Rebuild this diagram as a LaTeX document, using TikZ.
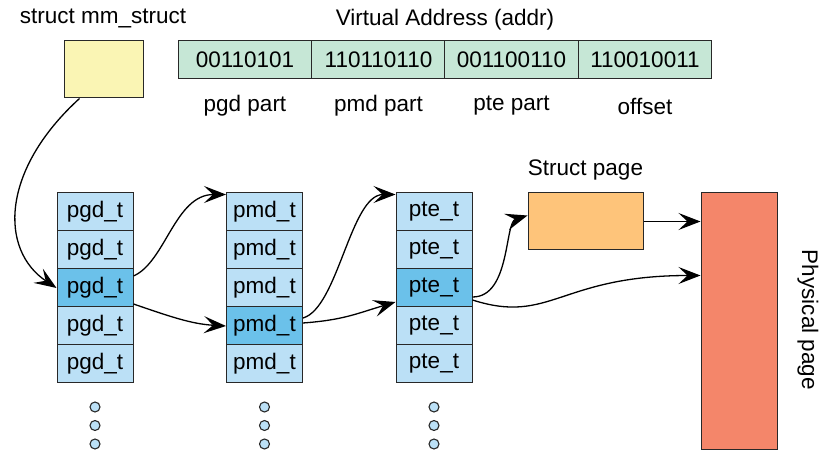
\documentclass[tikz,border=0pt]{standalone}
\usepackage{fontspec}
\setmainfont{Liberation Sans}
\usetikzlibrary{arrows.meta,calc}

\definecolor{mmyellow}{RGB}{250,245,180}
\definecolor{addrgreen}{RGB}{198,231,214}
\definecolor{tblblue}{RGB}{187,224,246}
\definecolor{tbldark}{RGB}{107,193,234}
\definecolor{pageorange}{RGB}{254,196,122}
\definecolor{physred}{RGB}{244,134,106}
\definecolor{edge}{RGB}{40,40,40}

\begin{document}
\begin{tikzpicture}[x=1pt,y=-1pt,
    every node/.style={font=\fontsize{22.5}{27}\selectfont,inner sep=0pt},
    box/.style={draw=edge,line width=1pt},
    entry/.style={box,fill=tblblue,minimum width=76pt,minimum height=38pt},
    hit/.style={entry,fill=tbldark},
    bits/.style={box,fill=addrgreen,minimum width=133.5pt,minimum height=38pt},
    more/.style={circle,draw=edge,fill=tblblue,line width=1.1pt,minimum size=10pt},
    ptr/.style={-{Stealth[length=22pt,width=17pt,inset=9pt]},line width=1.3pt}]
    \useasboundingbox (0,0) rectangle (820,454);

    % mm_struct and the address
    \node (mmlabel) at (103,18) {struct mm\_struct};
    \node[box,fill=mmyellow,minimum width=79pt,minimum height=57pt] (mm) at (103.5,69.5) {};
    \node (vaddr) at (445,20) {Virtual Address (addr)};
    \node[bits] (b1) at (245,60) {00110101};
    \node[bits] (b2) at (378.5,60) {110110110};
    \node[bits] (b3) at (511.5,60) {001100110};
    \node[bits] (b4) at (645,60) {110010011};
    \node (l1) at (245,106) {pgd part};
    \node (l2) at (378.5,106) {pmd part};
    \node (l3) at (511.5,106) {pte part};
    \node (l4) at (645,106) {offset};

    % the three tables
    \foreach \i/\y/\s in {1/212/entry,2/250/entry,3/288/hit,4/326/entry,5/364/entry}
      \node[\s] (pgd\i) at (95,\y) {pgd\_t};
    \foreach \i/\y/\s in {1/212/entry,2/250/entry,3/288/entry,4/326/hit,5/364/entry}
      \node[\s] (pmd\i) at (264.5,\y) {pmd\_t};
    \foreach \i/\y/\s in {1/212/entry,2/250/entry,3/288/hit,4/326/entry,5/364/entry}
      \node[\s] (pte\i) at (434,\y) {pte\_t};
    \foreach \x/\n in {95/a,264.5/b,434/c}
      \foreach \y/\k in {407/1,425.5/2,444/3}
        \node[more] (dot\n\k) at (\x,\y) {};

    % struct page and physical page
    \node (pagelabel) at (585.5,170) {Struct page};
    \node[box,fill=pageorange,minimum width=115pt,minimum height=57pt] (page) at (585.5,221.5) {};
    \node[box,fill=physred,minimum width=76pt,minimum height=257pt] (phys) at (739,321.5) {};
    \node[rotate=-90] (physlabel) at (808,320) {Physical page};

    % pointers
    \draw[ptr] ($(mm.south west)!0.2!(mm.south east)$)
      .. controls +(-79,72) and +(-57,-38) .. (pgd3.west);
    \draw[ptr] ($(pgd3.east)+(0,-12)$)
      .. controls +(32,-14) and +(-51,0) .. ($(pmd1.north west)+(0,2)$);
    \draw[ptr] ($(pgd3.east)+(0,16)$)
      .. controls +(35,12) and +(-35,-2) .. (pmd4.west);
    \draw[ptr] ($(pmd4.east)+(0,-8)$)
      .. controls +(35,-10) and +(-45,0) .. ($(pte1.north west)+(0,2)$);
    \draw[ptr] ($(pmd4.east)+(0,-3)$)
      .. controls +(40,-3) and +(-40,12) .. ($(pte3.west)+(0,14)$);
    \draw[ptr] ($(pte3.east)+(0,9)$)
      .. controls +(38,0) and +(-23,7) .. ($(page.west)+(0,-6)$);
    \draw[ptr] ($(pte3.east)+(0,12)$)
      .. controls +(78,25) and +(-141,0) .. ($(phys.west)+(0,-46)$);
    \draw[ptr] (page.east) -- (page.east -| phys.west);
\end{tikzpicture}
\end{document}
